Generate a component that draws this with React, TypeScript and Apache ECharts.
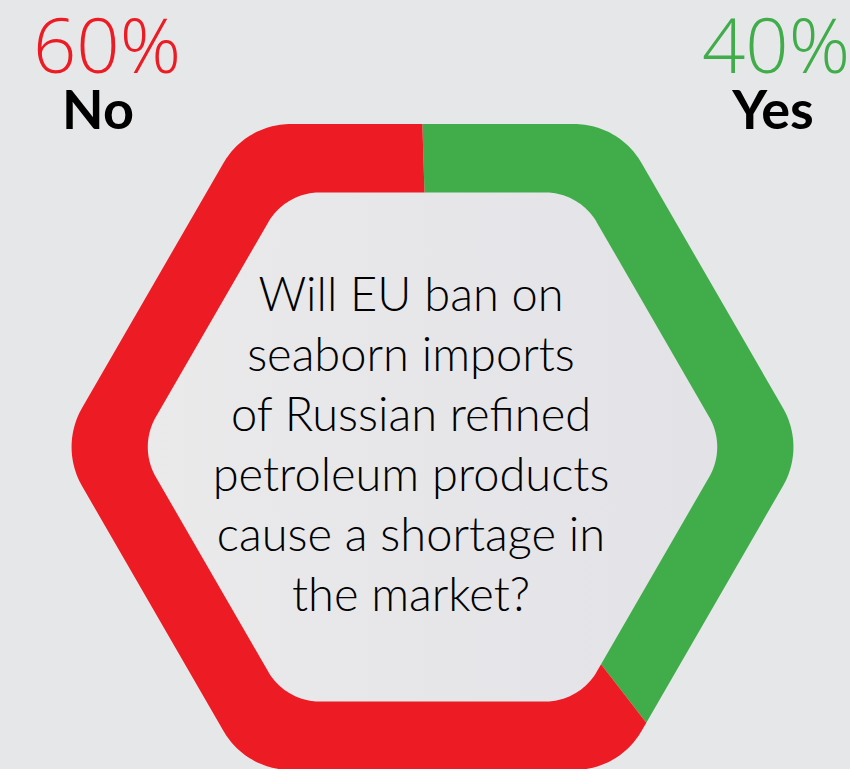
import { useEffect, useRef } from 'react';
import * as echarts from 'echarts';

// Poll answers, drawn clockwise from the top of the ring
const categories = ['Yes', 'No'];
const values = [40, 60];
const colors = ['#41ad4a', '#ed1c24'];

const questionLines = [
  'Will EU ban on',
  'seaborn imports',
  'of Russian refined',
  'petroleum products',
  'cause a shortage in',
  'the market?',
];

// Ring geometry (flat top/bottom hexagon with rounded corners)
const CX = 432.5;
const CY = 447;
const OUTER_R = 373;
const OUTER_CORNER = 78;
const INNER_R = 294;
const INNER_CORNER = 60;
const START_OFFSET = (-1.8 * Math.PI) / 180;

type Pt = [number, number];

function roundedHexagon(cx: number, cy: number, R: number, r: number, steps = 30): Pt[] {
  const pts: Pt[] = [];
  const d = R - r / Math.sin(Math.PI / 3);
  for (let k = 0; k < 6; k++) {
    const va = (k * Math.PI) / 3;
    const ccx = cx + d * Math.cos(va);
    const ccy = cy + d * Math.sin(va);
    for (let s = 0; s <= steps; s++) {
      const phi = va - Math.PI / 6 + ((Math.PI / 3) * s) / steps;
      pts.push([ccx + r * Math.cos(phi), ccy + r * Math.sin(phi)]);
    }
  }
  return pts;
}

// clockwise angle measured from 12 o'clock, kept within [START_OFFSET, START_OFFSET + 2π)
function clockAngle(p: Pt): number {
  let t = Math.atan2(p[0] - CX, -(p[1] - CY));
  while (t < START_OFFSET) t += Math.PI * 2;
  while (t >= START_OFFSET + Math.PI * 2) t -= Math.PI * 2;
  return t;
}

function boundaryAt(poly: Pt[], t: number): Pt {
  const dx = Math.sin(t);
  const dy = -Math.cos(t);
  let best = Infinity;
  for (let i = 0; i < poly.length; i++) {
    const p = poly[i];
    const q = poly[(i + 1) % poly.length];
    const ex = q[0] - p[0];
    const ey = q[1] - p[1];
    const den = dx * ey - dy * ex;
    if (Math.abs(den) < 1e-12) continue;
    const wx = p[0] - CX;
    const wy = p[1] - CY;
    const s = (wx * ey - wy * ex) / den;
    const u = (wx * dy - wy * dx) / den;
    if (s > 0 && u >= -1e-9 && u <= 1 + 1e-9 && s < best) best = s;
  }
  return [CX + dx * best, CY + dy * best];
}

function arcAlong(poly: Pt[], t0: number, t1: number): Pt[] {
  const inside = poly
    .map((p) => ({ p, t: clockAngle(p) }))
    .filter((o) => o.t > t0 && o.t < t1)
    .sort((a, b) => a.t - b.t)
    .map((o) => o.p);
  return [boundaryAt(poly, t0), ...inside, boundaryAt(poly, t1)];
}

const outerHex = roundedHexagon(CX, CY, OUTER_R, OUTER_CORNER);
const innerHex = roundedHexagon(CX, CY, INNER_R, INNER_CORNER);

function ringSegment(t0: number, t1: number): Pt[] {
  const outer = arcAlong(outerHex, t0, t1);
  const inner = arcAlong(innerHex, t0, t1).reverse();
  return [...outer, ...inner];
}

export default function App() {
  const ref = useRef<HTMLDivElement>(null);

  useEffect(() => {
    if (!ref.current) return;
    const chart = echarts.init(ref.current, undefined, { renderer: 'svg' });
    const total = values.reduce((a, b) => a + b, 0);

    const answerText = (i: number, x: number, labelX: number) => [
      {
        type: 'text',
        x,
        y: 43,
        z: 10,
        style: {
          text: `${values[i]}%`,
          fill: colors[i],
          fontFamily: 'Open Sans',
          fontWeight: 300,
          fontSize: 76,
          lineHeight: 56,
          textAlign: 'center',
          textVerticalAlign: 'middle',
        },
      },
      {
        type: 'text',
        x: labelX,
        y: 108,
        z: 10,
        style: {
          text: categories[i],
          fill: '#000',
          fontFamily: 'Lato',
          fontWeight: 700,
          fontSize: 54,
          lineHeight: 40,
          textAlign: 'center',
          textVerticalAlign: 'middle',
        },
      },
    ];

    chart.setOption({
      animation: false,
      backgroundColor: '#e6e7e9',
      graphic: [
        {
          type: 'polygon',
          z: 0,
          shape: { points: innerHex },
          style: {
            fill: {
              type: 'linear',
              x: 0,
              y: 0,
              x2: 1,
              y2: 0,
              colorStops: [
                { offset: 0, color: '#eaeaeb' },
                { offset: 1, color: '#e3e2e7' },
              ],
            },
          },
        },
        ...answerText(1, 107, 98),
        ...answerText(0, 776, 773),
        ...questionLines.map((line, i) => ({
          type: 'text',
          x: 411,
          y: 293 + i * 60,
          z: 10,
          style: {
            text: line,
            fill: '#000',
            fontFamily: 'Lato',
            fontWeight: 300,
            fontSize: 47,
            textAlign: 'center',
            textVerticalAlign: 'middle',
          },
        })),
      ],
      series: [
        {
          type: 'custom',
          coordinateSystem: 'none',
          silent: true,
          data: values.map((v, i) => ({ name: categories[i], value: v })),
          renderItem: (params: any, api: any) => {
            const i = params.dataIndex;
            let before = 0;
            for (let k = 0; k < i; k++) before += values[k];
            const t0 = START_OFFSET + (before / total) * Math.PI * 2;
            const t1 = START_OFFSET + ((before + api.value(0)) / total) * Math.PI * 2;
            return {
              type: 'polygon',
              shape: { points: ringSegment(t0, t1) },
              style: { fill: colors[i] },
            };
          },
        },
      ],
    });

    return () => chart.dispose();
  }, []);

  return (
    <div
      ref={ref}
      style={{ position: 'fixed', left: 0, top: 0, width: 850, height: 769 }}
    />
  );
}
